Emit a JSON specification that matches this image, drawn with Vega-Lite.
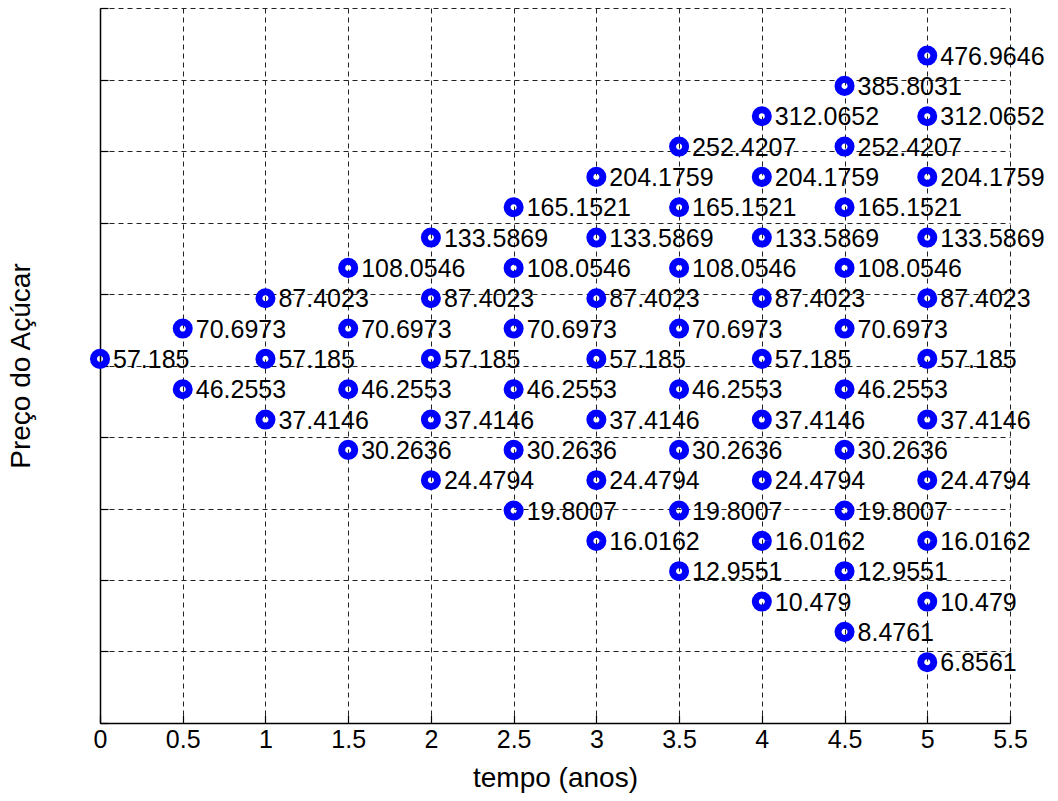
{
  "$schema": "https://vega.github.io/schema/vega-lite/v6.json",
  "width": 910,
  "height": 715,
  "autosize": {"type": "none"},
  "padding": {"left": 100, "top": 8, "right": 48, "bottom": 78},
  "background": "white",
  "config": {
    "view": {"stroke": null},
    "font": "Liberation Sans",
    "axis": {
      "domainColor": "black",
      "domainWidth": 1.5,
      "grid": true,
      "gridColor": "#222222",
      "gridDash": [5, 4],
      "gridWidth": 1,
      "gridOpacity": 1,
      "tickColor": "black",
      "tickSize": -8,
      "tickWidth": 1.2,
      "labelFont": "Liberation Sans",
      "labelFontSize": 25,
      "labelColor": "black",
      "titleFont": "Liberation Sans",
      "titleFontSize": 28,
      "titleFontWeight": "normal",
      "titleColor": "black"
    }
  },
  "data": {
    "values": [
      {"t": 0, "price": 57.185, "label": "57.185"},
      {"t": 0.5, "price": 70.6973, "label": "70.6973"},
      {"t": 0.5, "price": 46.2553, "label": "46.2553"},
      {"t": 1, "price": 87.4023, "label": "87.4023"},
      {"t": 1, "price": 57.185, "label": "57.185"},
      {"t": 1, "price": 37.4146, "label": "37.4146"},
      {"t": 1.5, "price": 108.0546, "label": "108.0546"},
      {"t": 1.5, "price": 70.6973, "label": "70.6973"},
      {"t": 1.5, "price": 46.2553, "label": "46.2553"},
      {"t": 1.5, "price": 30.2636, "label": "30.2636"},
      {"t": 2, "price": 133.5869, "label": "133.5869"},
      {"t": 2, "price": 87.4023, "label": "87.4023"},
      {"t": 2, "price": 57.185, "label": "57.185"},
      {"t": 2, "price": 37.4146, "label": "37.4146"},
      {"t": 2, "price": 24.4794, "label": "24.4794"},
      {"t": 2.5, "price": 165.1521, "label": "165.1521"},
      {"t": 2.5, "price": 108.0546, "label": "108.0546"},
      {"t": 2.5, "price": 70.6973, "label": "70.6973"},
      {"t": 2.5, "price": 46.2553, "label": "46.2553"},
      {"t": 2.5, "price": 30.2636, "label": "30.2636"},
      {"t": 2.5, "price": 19.8007, "label": "19.8007"},
      {"t": 3, "price": 204.1759, "label": "204.1759"},
      {"t": 3, "price": 133.5869, "label": "133.5869"},
      {"t": 3, "price": 87.4023, "label": "87.4023"},
      {"t": 3, "price": 57.185, "label": "57.185"},
      {"t": 3, "price": 37.4146, "label": "37.4146"},
      {"t": 3, "price": 24.4794, "label": "24.4794"},
      {"t": 3, "price": 16.0162, "label": "16.0162"},
      {"t": 3.5, "price": 252.4207, "label": "252.4207"},
      {"t": 3.5, "price": 165.1521, "label": "165.1521"},
      {"t": 3.5, "price": 108.0546, "label": "108.0546"},
      {"t": 3.5, "price": 70.6973, "label": "70.6973"},
      {"t": 3.5, "price": 46.2553, "label": "46.2553"},
      {"t": 3.5, "price": 30.2636, "label": "30.2636"},
      {"t": 3.5, "price": 19.8007, "label": "19.8007"},
      {"t": 3.5, "price": 12.9551, "label": "12.9551"},
      {"t": 4, "price": 312.0652, "label": "312.0652"},
      {"t": 4, "price": 204.1759, "label": "204.1759"},
      {"t": 4, "price": 133.5869, "label": "133.5869"},
      {"t": 4, "price": 87.4023, "label": "87.4023"},
      {"t": 4, "price": 57.185, "label": "57.185"},
      {"t": 4, "price": 37.4146, "label": "37.4146"},
      {"t": 4, "price": 24.4794, "label": "24.4794"},
      {"t": 4, "price": 16.0162, "label": "16.0162"},
      {"t": 4, "price": 10.479, "label": "10.479"},
      {"t": 4.5, "price": 385.8031, "label": "385.8031"},
      {"t": 4.5, "price": 252.4207, "label": "252.4207"},
      {"t": 4.5, "price": 165.1521, "label": "165.1521"},
      {"t": 4.5, "price": 108.0546, "label": "108.0546"},
      {"t": 4.5, "price": 70.6973, "label": "70.6973"},
      {"t": 4.5, "price": 46.2553, "label": "46.2553"},
      {"t": 4.5, "price": 30.2636, "label": "30.2636"},
      {"t": 4.5, "price": 19.8007, "label": "19.8007"},
      {"t": 4.5, "price": 12.9551, "label": "12.9551"},
      {"t": 4.5, "price": 8.4761, "label": "8.4761"},
      {"t": 5, "price": 476.9646, "label": "476.9646"},
      {"t": 5, "price": 312.0652, "label": "312.0652"},
      {"t": 5, "price": 204.1759, "label": "204.1759"},
      {"t": 5, "price": 133.5869, "label": "133.5869"},
      {"t": 5, "price": 87.4023, "label": "87.4023"},
      {"t": 5, "price": 57.185, "label": "57.185"},
      {"t": 5, "price": 37.4146, "label": "37.4146"},
      {"t": 5, "price": 24.4794, "label": "24.4794"},
      {"t": 5, "price": 16.0162, "label": "16.0162"},
      {"t": 5, "price": 10.479, "label": "10.479"},
      {"t": 5, "price": 6.8561, "label": "6.8561"}
    ]
  },
  "encoding": {
    "x": {
      "field": "t",
      "type": "quantitative",
      "scale": {"domain": [0, 5.5], "nice": false, "zero": false},
      "axis": {
        "title": "tempo (anos)",
        "values": [0, 0.5, 1, 1.5, 2, 2.5, 3, 3.5, 4, 4.5, 5, 5.5],
        "labelExpr": "datum.value",
        "labelPadding": 12,
        "titlePadding": 12,
        "labelFlush": false
      }
    },
    "y": {
      "field": "price",
      "type": "quantitative",
      "scale": {"type": "log", "domain": [4.4817, 665.1416], "nice": false},
      "axis": {
        "title": "Preço do Açúcar",
        "values": [4.4817, 7.3891, 12.1825, 20.0855, 33.1155, 54.5982, 90.0171, 148.4132, 244.6919, 403.4288, 665.1416],
        "labels": false,
        "titlePadding": 64
      }
    }
  },
  "layer": [
    {
      "mark": {"type": "point", "shape": "circle", "filled": false, "color": "#0000FF", "size": 170, "strokeWidth": 7, "opacity": 1}
    },
    {
      "mark": {"type": "text", "align": "left", "baseline": "middle", "dx": 13, "dy": 1, "fontSize": 25, "font": "Liberation Sans", "color": "black"},
      "encoding": {"text": {"field": "label", "type": "nominal"}}
    }
  ]
}
